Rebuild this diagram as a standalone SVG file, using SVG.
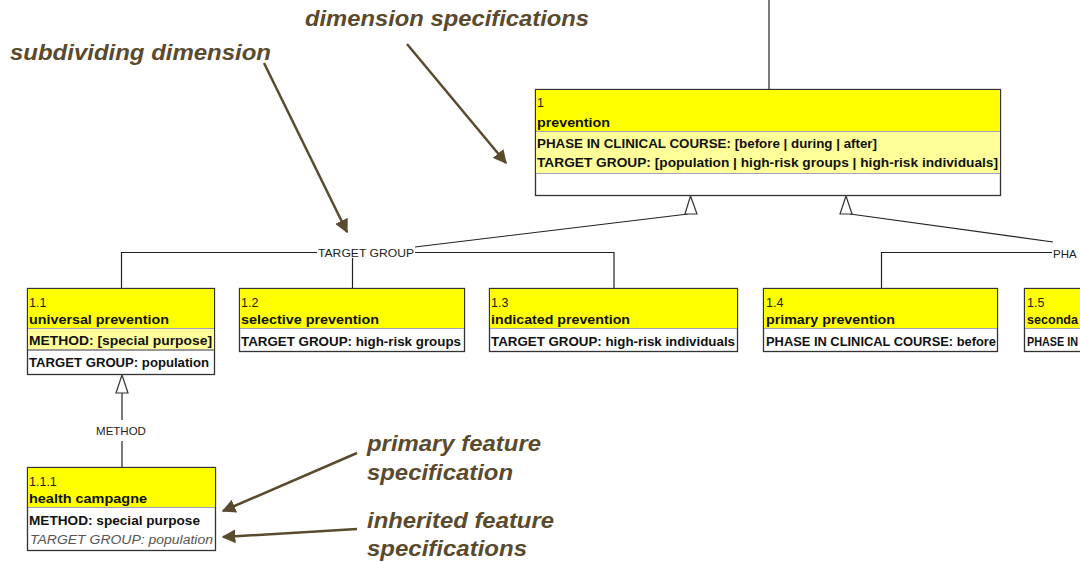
<svg xmlns="http://www.w3.org/2000/svg" width="1080" height="562" viewBox="0 0 1080 562">
<defs>
<style>
.box{fill:#ffffff;stroke:#333333;stroke-width:1.3}
.hdr{fill:#ffff00}
.attr{fill:#ffff99}
.sep{stroke:#a0a0c0;stroke-width:1}
.num{font-family:"Liberation Sans",Arial,sans-serif;font-size:12.5px;fill:#222}
.name{font-family:"Liberation Sans",Arial,sans-serif;font-size:13px;font-weight:bold;fill:#111}
.feat{font-family:"Liberation Sans",Arial,sans-serif;font-size:12.5px;font-weight:bold;fill:#111}
.inh{font-family:"Liberation Sans",Arial,sans-serif;font-size:12.5px;font-style:italic;fill:#555}
.lbl{font-family:"Liberation Sans",Arial,sans-serif;font-size:11.5px;fill:#222}
.conn{stroke:#222;stroke-width:1.2;fill:none}
.tri{fill:#fff;stroke:#333;stroke-width:1.2}
.ann{font-family:"Liberation Sans",Arial,sans-serif;font-size:22px;font-weight:bold;font-style:italic;fill:#5a4a2e}
.aline{stroke:#5a4a2e;stroke-width:2.5;fill:none}
</style>
<marker id="ah" viewBox="0 0 10 10" refX="9" refY="5" markerWidth="5.5" markerHeight="5.5" markerUnits="strokeWidth" orient="auto">
<path d="M0,0 L10,5 L0,10 z" fill="#5a4a2e"/>
</marker>
</defs>

<g id="connectors">
<line class="conn" x1="769" y1="0" x2="769" y2="89"/>
<polyline class="conn" points="688,214 415,247"/>
<polyline class="conn" points="850,214 1053,242"/>
<line class="conn" x1="121" y1="252.5" x2="317" y2="252.5"/>
<line class="conn" x1="415" y1="252.5" x2="614" y2="252.5"/>
<line class="conn" x1="121.5" y1="252" x2="121.5" y2="288"/>
<line class="conn" x1="352.5" y1="258" x2="352.5" y2="288"/>
<line class="conn" x1="614" y1="252" x2="614" y2="288"/>
<line class="conn" x1="881.5" y1="252.5" x2="1052" y2="252.5"/>
<line class="conn" x1="881.5" y1="252" x2="881.5" y2="288"/>
<polygon class="tri" points="690.5,196 685,214 697,214"/>
<polygon class="tri" points="846,196 840,214 852,214"/>
<text class="lbl" x="366" y="256.5" text-anchor="middle" textLength="96" lengthAdjust="spacingAndGlyphs">TARGET GROUP</text>
<text class="lbl" x="1053" y="257.5">PHA</text>
<line class="conn" x1="122" y1="393" x2="122" y2="420"/>
<line class="conn" x1="122" y1="441" x2="122" y2="467"/>
<polygon class="tri" points="122,375 116,393 128,393"/>
<text class="lbl" x="121" y="435" text-anchor="middle">METHOD</text>
</g>

<g id="n1">
<rect class="box" x="535.5" y="89.5" width="465" height="106"/>
<rect class="hdr" x="536" y="90" width="464" height="41"/>
<rect class="attr" x="536" y="132" width="464" height="41"/>
<line class="sep" x1="536" y1="131.5" x2="1000" y2="131.5"/>
<line class="sep" x1="536" y1="173.5" x2="1000" y2="173.5"/>
<text class="num" x="537" y="107">1</text>
<text class="name" x="537" y="127" textLength="73" lengthAdjust="spacingAndGlyphs">prevention</text>
<text class="feat" x="537" y="148" textLength="340" lengthAdjust="spacingAndGlyphs">PHASE IN CLINICAL COURSE: [before | during | after]</text>
<text class="feat" x="537" y="167" textLength="461" lengthAdjust="spacingAndGlyphs">TARGET GROUP: [population | high-risk groups | high-risk individuals]</text>
</g>

<g id="n1_1">
<rect class="box" x="27.5" y="288.5" width="187" height="86"/>
<rect class="hdr" x="28" y="289" width="186" height="39"/>
<rect class="attr" x="28" y="329" width="186" height="20"/>
<line class="sep" x1="28" y1="328.5" x2="214" y2="328.5"/>
<line x1="28" y1="350" x2="214" y2="350" stroke="#999" stroke-width="2"/>
<text class="num" x="29" y="307">1.1</text>
<text class="name" x="29" y="324" textLength="140" lengthAdjust="spacingAndGlyphs">universal prevention</text>
<text class="feat" x="29" y="345" textLength="183" lengthAdjust="spacingAndGlyphs">METHOD: [special purpose]</text>
<text class="feat" x="29" y="367" textLength="180" lengthAdjust="spacingAndGlyphs">TARGET GROUP: population</text>
</g>

<g id="n1_2">
<rect class="box" x="239.5" y="288.5" width="225" height="63"/>
<rect class="hdr" x="240" y="289" width="224" height="39"/>
<line class="sep" x1="240" y1="328.5" x2="464" y2="328.5"/>
<text class="num" x="241" y="307">1.2</text>
<text class="name" x="241" y="324" textLength="138" lengthAdjust="spacingAndGlyphs">selective prevention</text>
<text class="feat" x="241" y="346" textLength="220" lengthAdjust="spacingAndGlyphs">TARGET GROUP: high-risk groups</text>
</g>

<g id="n1_3">
<rect class="box" x="489.5" y="288.5" width="248" height="63"/>
<rect class="hdr" x="490" y="289" width="247" height="39"/>
<line class="sep" x1="490" y1="328.5" x2="737" y2="328.5"/>
<text class="num" x="491" y="307">1.3</text>
<text class="name" x="491" y="324" textLength="139" lengthAdjust="spacingAndGlyphs">indicated prevention</text>
<text class="feat" x="491" y="346" textLength="244" lengthAdjust="spacingAndGlyphs">TARGET GROUP: high-risk individuals</text>
</g>

<g id="n1_4">
<rect class="box" x="763.5" y="288.5" width="234" height="63"/>
<rect class="hdr" x="764" y="289" width="233" height="39"/>
<line class="sep" x1="764" y1="328.5" x2="997" y2="328.5"/>
<text class="num" x="766" y="307">1.4</text>
<text class="name" x="766" y="324" textLength="129" lengthAdjust="spacingAndGlyphs">primary prevention</text>
<text class="feat" x="766" y="346" textLength="230" lengthAdjust="spacingAndGlyphs">PHASE IN CLINICAL COURSE: before</text>
</g>

<g id="n1_5">
<rect class="box" x="1024.5" y="288.5" width="70" height="63"/>
<rect class="hdr" x="1025" y="289" width="60" height="39"/>
<line class="sep" x1="1025" y1="328.5" x2="1080" y2="328.5"/>
<text class="num" x="1027" y="307">1.5</text>
<text class="name" x="1027" y="324" textLength="51" lengthAdjust="spacingAndGlyphs">seconda</text>
<text class="feat" x="1027" y="346" textLength="51" lengthAdjust="spacingAndGlyphs">PHASE IN</text>
</g>

<g id="n1_1_1">
<rect class="box" x="27.5" y="467.5" width="188" height="83"/>
<rect class="hdr" x="28" y="468" width="187" height="39"/>
<line class="sep" x1="28" y1="507.5" x2="215" y2="507.5"/>
<text class="num" x="29" y="486">1.1.1</text>
<text class="name" x="29" y="503" textLength="118" lengthAdjust="spacingAndGlyphs">health campagne</text>
<text class="feat" x="29" y="525" textLength="171" lengthAdjust="spacingAndGlyphs">METHOD: special purpose</text>
<text class="inh" x="30" y="544" textLength="183" lengthAdjust="spacingAndGlyphs">TARGET GROUP: population</text>
</g>

<g id="annotations">
<text class="ann" x="305" y="26" textLength="284" lengthAdjust="spacingAndGlyphs">dimension specifications</text>
<text class="ann" x="10" y="60" textLength="261" lengthAdjust="spacingAndGlyphs">subdividing dimension</text>
<text class="ann" x="367" y="451" textLength="174" lengthAdjust="spacingAndGlyphs">primary feature</text>
<text class="ann" x="367" y="480" textLength="146" lengthAdjust="spacingAndGlyphs">specification</text>
<text class="ann" x="367" y="528" textLength="187" lengthAdjust="spacingAndGlyphs">inherited feature</text>
<text class="ann" x="367" y="556" textLength="160" lengthAdjust="spacingAndGlyphs">specifications</text>
<line class="aline" x1="407" y1="44" x2="506" y2="163" marker-end="url(#ah)"/>
<line class="aline" x1="264" y1="63" x2="347" y2="232" marker-end="url(#ah)"/>
<line class="aline" x1="357" y1="453" x2="223" y2="511" marker-end="url(#ah)"/>
<line class="aline" x1="357" y1="529" x2="223" y2="537" marker-end="url(#ah)"/>
</g>
</svg>
